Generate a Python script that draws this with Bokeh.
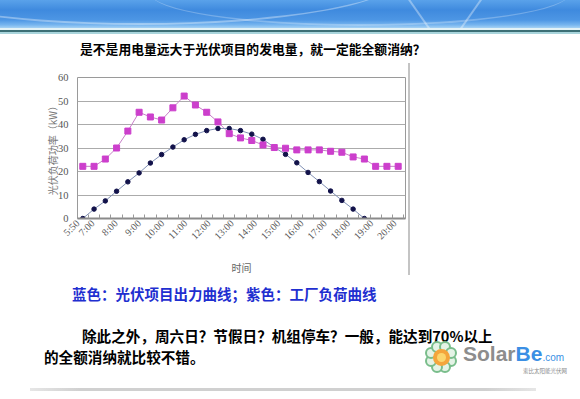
import math
from bokeh.plotting import figure
from bokeh.layouts import column, row
from bokeh.models import Range1d, FixedTicker, Div, CustomJSTickFormatter
from bokeh.embed import file_html
from bokeh.resources import INLINE

# ---------------- data ----------------
time_labels = ["5:50", "7:00", "8:00", "9:00", "10:00", "11:00", "12:00", "13:00",
               "14:00", "15:00", "16:00", "17:00", "18:00", "19:00", "20:00"]
# half-hour samples
pv_output = [0, 4, 7.5, 11.6, 15.6, 19.4, 23.6, 27.2, 30.4, 33.5, 35.8, 37.4, 38.3,
             38.3, 37.4, 35.9, 33.7, 30.3, 27.3, 23.7, 19.6, 15.7, 11.7, 7.7, 4, 0]
factory_load = [22.2, 22.2, 25.3, 30, 37.2, 45.2, 43.2, 41.9, 47.1, 52.1, 48.3, 45.2,
                41.1, 36.1, 34.3, 33.2, 31.3, 30.2, 29.9, 29.2, 29.2, 29.2, 28.6, 28.2,
                26.2, 25.3, 22.2, 22.2, 22.2]
y_ticks = [0, 10, 20, 30, 40, 50, 60]

title_text = "是不是用电量远大于光伏项目的发电量，就一定能全额消纳？"
legend_text = "蓝色：光伏项目出力曲线；紫色：工厂负荷曲线"
body_line1 = "除此之外，周六日？节假日？机组停车？一般，能达到70%以上"
body_line2 = "的全额消纳就比较不错。"
y_title = "光伏负荷功率（kW）"
x_title = "时间"

W, H = 580, 399
CJK = "Noto Sans CJK SC"
SERIF = "Liberation Serif"

# ---------------- layout bands (page pixels) ----------------
HEAD_H = 62            # banner + title
CHART_H = 218          # chart band
FIG_W = 408
FL, FR, FT, FB = 77, 405, 77, 218   # plot frame edges on the page

# ---------------- chart ----------------
p = figure(width=FIG_W, height=CHART_H, output_backend="svg", toolbar_location=None,
           x_range=Range1d(-0.47, 28.65), y_range=Range1d(0, 60),
           min_border_left=FL, min_border_right=FIG_W - FR,
           min_border_top=FT - HEAD_H, min_border_bottom=HEAD_H + CHART_H - FB)
p.background_fill_color = "white"
p.border_fill_color = "white"
p.outline_line_color = "#9a9a9a"
p.outline_line_width = 1

p.yaxis.ticker = FixedTicker(ticks=y_ticks)
p.yaxis.axis_line_color = None
p.yaxis.major_tick_line_color = None
p.yaxis.minor_tick_line_color = None
p.yaxis.major_label_text_font = SERIF
p.yaxis.major_label_text_font_size = "10.5px"
p.yaxis.major_label_text_color = "#555555"
p.yaxis.major_label_standoff = 3
p.yaxis.axis_label = y_title
p.yaxis.axis_label_text_font = CJK
p.yaxis.axis_label_text_font_style = "normal"
p.yaxis.axis_label_text_font_size = "10px"
p.yaxis.axis_label_text_color = "#777777"
p.yaxis.axis_label_standoff = -5

# x axis: minor ticks between categories, rotated labels every two samples
n = len(factory_load)
LABEL_ORIGIN, LABEL_STEP = -1.18, 2.063
label_pos = [max(-0.45, LABEL_ORIGIN + k * LABEL_STEP) for k in range(len(time_labels))]
p.xaxis.ticker = FixedTicker(ticks=label_pos, minor_ticks=[i + 0.5 for i in range(n)])
p.xaxis.formatter = CustomJSTickFormatter(args=dict(labels=time_labels),
                                          code="return labels[index] || ''")
p.xaxis.major_label_orientation = math.pi / 4
p.xaxis.major_label_text_font = SERIF
p.xaxis.major_label_text_font_size = "10px"
p.xaxis.major_label_text_color = "#5a5a5a"
p.xaxis.major_label_standoff = 3
p.xaxis.major_tick_line_color = None
p.xaxis.major_tick_in = 0
p.xaxis.major_tick_out = 0
p.xaxis.axis_line_color = "#8a8a8a"
p.xaxis.axis_line_width = 2
p.xaxis.minor_tick_in = 4
p.xaxis.minor_tick_out = 0
p.xaxis.minor_tick_line_color = "#999999"
p.xaxis.axis_label = x_title
p.xaxis.axis_label_text_font = CJK
p.xaxis.axis_label_text_font_style = "normal"
p.xaxis.axis_label_text_font_size = "10px"
p.xaxis.axis_label_text_color = "#666666"
p.xaxis.axis_label_standoff = 12

p.xgrid.grid_line_color = None
p.ygrid.ticker = FixedTicker(ticks=y_ticks)
p.ygrid.grid_line_color = "#ababab"

xs_load = list(range(len(factory_load)))
xs_pv = list(range(len(pv_output)))
p.line(xs_load, factory_load, line_color="#c77fc7", line_width=1)
p.line(xs_pv, pv_output, line_color="#8090b4", line_width=1)
p.scatter(xs_pv, pv_output, marker="circle", size=4.5, fill_color="#12124a",
          line_color="#12124a")
p.scatter(xs_load, factory_load, marker="square", size=6, fill_color="#cc3fcc",
          line_color="#cc3fcc")

# ---------------- html helpers ----------------
def txt(x, yc, s, size, color="#000000", weight="bold", font=CJK, align="left", width=W):
    lh = round(size * 1.3, 1)
    pos = "left:%spx;" % x if align == "left" else "right:%spx;" % (width - x)
    return ('<div style="position:absolute;%stop:%spx;height:%spx;line-height:%spx;'
            'font-family:\'%s\';font-size:%spx;font-weight:%s;color:%s;white-space:nowrap;">%s</div>'
            % (pos, yc - lh / 2, lh, lh, font, size, weight, color, s))

def dot(cx, cy, r, fill, border=None, bw=0):
    b = "border:%spx solid %s;" % (bw, border) if border else ""
    return ('<div style="position:absolute;left:%spx;top:%spx;width:%spx;height:%spx;'
            'border-radius:50%%;background:%s;%sbox-sizing:border-box;"></div>'
            % (cx - r, cy - r, 2 * r, 2 * r, fill, b))

# header: banner + question
banner_grad = ("linear-gradient(to bottom,#5aa2ea 0px,#3f8ade 10px,#4d96e4 20px,"
               "#78b6ef 25px,#a6d2f4 28px,#e3f2f6 28px,#e3f2f6 30px,#3c6f76 30px,"
               "#3c6f76 32.5px,#a9d5dc 32.5px,#a9d5dc 34px)")
swoosh = ('<div style="position:absolute;left:0;top:0;width:580px;height:28px;overflow:hidden;">'
          '<div style="position:absolute;left:-120px;top:-70px;width:520px;height:95px;border-radius:50%;'
          'border-bottom:2px solid rgba(255,255,255,0.35);"></div>'
          '<div style="position:absolute;left:150px;top:-40px;width:420px;height:66px;border-radius:50%;'
          'border-bottom:2px solid rgba(255,255,255,0.25);"></div>'
          '<div style="position:absolute;left:418px;top:-6px;width:1.5px;height:40px;'
          'background:rgba(255,255,255,0.35);transform:rotate(-35deg);"></div>'
          '<div style="position:absolute;left:470px;top:-6px;width:1.5px;height:40px;'
          'background:rgba(255,255,255,0.35);transform:rotate(35deg);"></div></div>')
head_html = ('<div style="position:relative;width:%dpx;height:%dpx;overflow:hidden;background:white;">'
             '<div style="position:absolute;left:0;top:0;width:%dpx;height:34px;background:%s;"></div>%s%s</div>'
             % (W, HEAD_H, W, banner_grad, swoosh, txt(80, 49, title_text, 12.8)))
head = Div(text=head_html, width=W, height=HEAD_H, margin=0)

# right of chart: edge of the pasted picture
side_html = ('<div style="position:relative;width:%dpx;height:%dpx;background:white;">'
             '<div style="position:absolute;left:0;top:1px;width:2px;height:212px;background:#c4c4c4;"></div></div>'
             % (W - FIG_W, CHART_H))
side = Div(text=side_html, width=W - FIG_W, height=CHART_H, margin=0)

# bottom: colour note, remark, logo, rule
BOT_H = H - HEAD_H - CHART_H
y0 = HEAD_H + CHART_H
fcx, fcy = 441, 357 - y0
petals = "".join(dot(fcx + 11 * math.cos(2 * math.pi * i / 8 + math.pi / 8),
                     fcy + 11 * math.sin(2 * math.pi * i / 8 + math.pi / 8),
                     6, "#e4f3e6", "#79bd8b", 2) for i in range(8))
logo = (petals + dot(fcx, fcy, 8.5, "#f4a53c") + dot(fcx, fcy, 4.5, "#fbd66e")
        + txt(463, 354 - y0, 'Solar<span style="color:#3b8fe4;">Be</span>'
              '<span style="font-size:10px;font-weight:normal;color:#3b8fe4;">.com</span>',
              21, color="#8d8d8d", font="Liberation Sans")
        + txt(567, 372 - y0, "索比太阳能光伏网", 5.5, color="#8a8a8a", weight="normal",
              align="right"))
rule = ('<div style="position:absolute;left:30px;top:%spx;width:506px;height:3px;'
        'background:linear-gradient(to right,#e6e6e6,#d0d0d0 10%%,#d0d0d0 90%%,#e6e6e6);"></div>'
        % (388 - y0))
bot_html = ('<div style="position:relative;width:%dpx;height:%dpx;overflow:hidden;background:white;">%s%s%s%s%s</div>'
            % (W, BOT_H,
               txt(72, 294 - y0, legend_text, 14.5, color="#1f2fd0"),
               txt(82, 335 - y0, body_line1, 14.6),
               txt(44, 356 - y0, body_line2, 14.6),
               rule, logo))
bot = Div(text=bot_html, width=W, height=BOT_H, margin=0)

page = column(head, row(p, side, spacing=0), bot, spacing=0)
open("out.html", "w").write(file_html(page, INLINE))
